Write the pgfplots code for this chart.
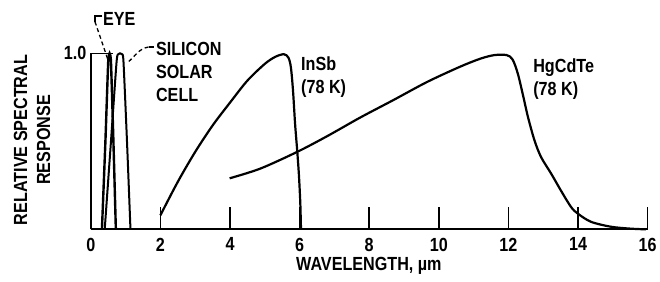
\documentclass[border=0pt]{standalone}
\usepackage{fontspec}
\setmainfont{Liberation Sans}[FakeStretch=0.85, UprightFont=*-Bold, FakeBold=0]
\usepackage{pgfplots}
\pgfplotsset{compat=1.18}
\begin{document}
\begin{tikzpicture}[font=\fontsize{19}{23}\selectfont]
\begin{axis}[
  x=34.8pt, y=176pt,
  xmin=0, xmax=16, ymin=0, ymax=1,
  axis lines=left,
  axis line style={-, line width=2pt},
  clip=false,
  xtick={0,2,...,16},
  ytick={1},
  yticklabels={1.0},
  tick align=inside,
  major tick length=22pt,
  every tick/.style={black, line width=1.6pt},
  /pgf/number format/assume math mode=true,
  xticklabel style={yshift=-5pt},
  yticklabel style={xshift=-1pt},
]
% bounding box matching the reference proportions
\path (axis cs:-2.609,-0.299) rectangle (axis cs:16.356,1.303);

% Eye
\addplot[black, line width=2.4pt, smooth, tension=0.3] coordinates {
 (0.32,0) (0.42,0.5) (0.50,0.95) (0.54,1.0) (0.58,0.95) (0.65,0.5) (0.72,0)
};
% Silicon solar cell
\addplot[black, line width=2pt, smooth, tension=0.4] coordinates {
 (0.40,0) (0.58,0.5) (0.74,0.95) (0.79,0.995) (0.84,1.0) (0.90,0.995) (0.94,0.95) (1.04,0.5) (1.14,0)
};
% InSb
\addplot[black, line width=2.2pt, smooth, tension=0.5] coordinates {
 (2.0,0.08) (2.5,0.27) (3.0,0.44) (3.5,0.59) (4.0,0.72) (4.5,0.845) (5.0,0.94)
 (5.3,0.98) (5.55,0.995) (5.68,0.975) (5.75,0.92) (5.81,0.79) (5.87,0.6)
 (5.93,0.45) (5.98,0.31) (6.02,0.15) (6.04,0.0)
};
% HgCdTe
\addplot[black, line width=2.2pt, smooth, tension=0.5] coordinates {
 (3.99,0.29) (4.87,0.345) (5.93,0.44) (6.78,0.528) (7.74,0.635) (8.70,0.735)
 (9.66,0.837) (10.6,0.923) (11.2,0.97) (11.6,0.99) (11.95,0.99) (12.12,0.965)
 (12.27,0.885) (12.41,0.77) (12.56,0.64) (12.75,0.505) (12.94,0.41)
 (13.23,0.316) (13.51,0.22) (13.80,0.127) (13.99,0.09) (14.37,0.043)
 (14.94,0.015) (15.5,0.004) (15.95,0.0)
};

% leaders
\draw[line width=1.3pt] (axis cs:0.33,1.212) -- (axis cs:0.12,1.212) -- (axis cs:0.12,1.18);
\draw[line width=1.3pt, dash pattern=on 4pt off 3pt] (axis cs:0.12,1.18) -- (axis cs:0.49,0.965);
\draw[line width=1.3pt] (axis cs:1.81,1.036) -- (axis cs:1.66,1.036);
\draw[line width=1.3pt, dash pattern=on 4pt off 3pt] (axis cs:1.66,1.036) to[out=190,in=40] (axis cs:1.07,0.95);

% labels
\node[anchor=west, inner sep=0pt] at (axis cs:0.35,1.195) {EYE};
\node[anchor=north west, inner sep=0pt, align=left] at (axis cs:1.87,1.064) {SILICON\\SOLAR\\CELL};
\node[anchor=north west, inner sep=0pt, align=left] at (axis cs:6.04,0.979) {InSb\\(78 K)};
\node[anchor=north west, inner sep=0pt, align=left] at (axis cs:12.71,0.973) {HgCdTe\\(78 K)};
\node[anchor=center, align=center, rotate=90, inner sep=0pt] at (axis cs:-1.69,0.508) {RELATIVE SPECTRAL\\RESPONSE};
\node[anchor=center, inner sep=0pt] at (axis cs:7.99,-0.208) {WAVELENGTH, µm};
\end{axis}
\end{tikzpicture}
\end{document}
